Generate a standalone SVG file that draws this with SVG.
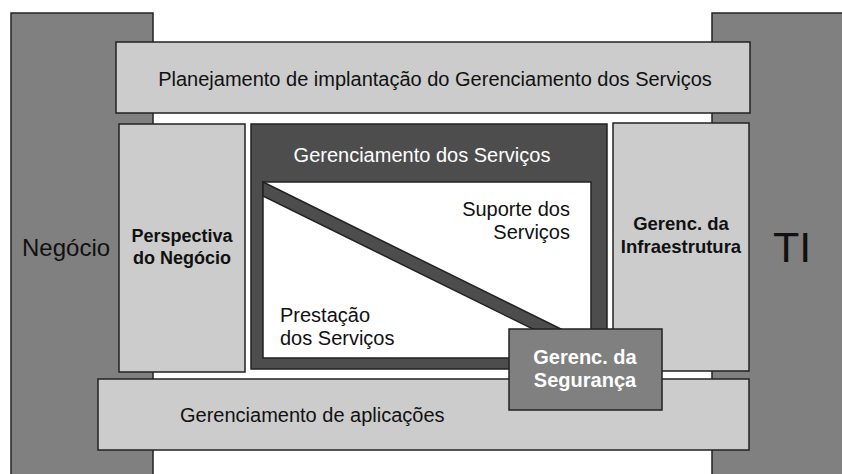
<svg xmlns="http://www.w3.org/2000/svg" width="842" height="474" viewBox="0 0 842 474">
<style>
rect, polygon { stroke: #222; stroke-width: 1.5; }
.side { fill: #808080; }
.light { fill: #cccccc; }
.dark { fill: #4d4d4d; }
.t { font-family: "Liberation Sans", Arial, sans-serif; fill: #111; }
.b { font-weight: bold; }
.w { fill: #ffffff; }
</style>
<rect width="842" height="474" fill="#ffffff" style="stroke:none"/>
<g id="negocio">
  <rect class="side" x="11" y="13" width="142" height="470"/>
  <text class="t" x="22" y="256" font-size="24">Negócio</text>
</g>
<g id="ti">
  <rect class="side" x="712" y="13" width="140" height="470"/>
  <text class="t" x="773" y="262" font-size="43">TI</text>
</g>
<g id="planejamento">
  <rect class="light" x="116" y="42" width="634" height="71"/>
  <text class="t" x="435" y="86" font-size="20" text-anchor="middle">Planejamento de implantação do Gerenciamento dos Serviços</text>
</g>
<g id="perspectiva">
  <rect class="light" x="119" y="124" width="126" height="248"/>
  <text class="t b" x="182" y="242" font-size="18" text-anchor="middle">Perspectiva</text>
  <text class="t b" x="182" y="264" font-size="18" text-anchor="middle">do Negócio</text>
</g>
<g id="infraestrutura">
  <rect class="light" x="613" y="123" width="136" height="248"/>
  <text class="t b" x="681" y="230" font-size="18.5" text-anchor="middle">Gerenc. da</text>
  <text class="t b" x="681" y="253" font-size="18.5" text-anchor="middle">Infraestrutura</text>
</g>
<g id="gerenciamento-servicos">
  <rect class="dark" x="251" y="124" width="356" height="245"/>
  <text class="t w" x="422" y="162" font-size="20" text-anchor="middle">Gerenciamento dos Serviços</text>
  <rect x="263" y="182" width="328" height="176" fill="#ffffff"/>
  <polygon class="dark" points="263,182 575,336 547,336 263,196"/>
  <text class="t" x="570" y="216" font-size="20" text-anchor="end">Suporte dos</text>
  <text class="t" x="570" y="239" font-size="20" text-anchor="end">Serviços</text>
  <text class="t" x="280" y="322" font-size="20">Prestação</text>
  <text class="t" x="280" y="345" font-size="20">dos Serviços</text>
</g>
<g id="aplicacoes">
  <rect class="light" x="98" y="379" width="651" height="71"/>
  <text class="t" x="180" y="422" font-size="20">Gerenciamento de aplicações</text>
</g>
<g id="seguranca">
  <rect class="side" x="509" y="329" width="153" height="81"/>
  <text class="t b w" x="585" y="364" font-size="20" text-anchor="middle">Gerenc. da</text>
  <text class="t b w" x="585" y="387" font-size="20" text-anchor="middle">Segurança</text>
</g>
</svg>
